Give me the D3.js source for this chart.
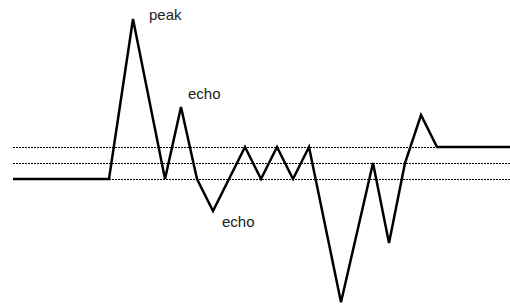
<!DOCTYPE html>
<html>
<head>
<meta charset="utf-8">
<script src="https://cdn.jsdelivr.net/npm/d3@7"></script>
<style>
  html, body { margin: 0; padding: 0; background: #fff; }
  svg { display: block; }
</style>
</head>
<body>
<svg id="chart" width="510" height="304"></svg>
<script>
// signal samples (time, amplitude)
let sampleTimes = [0.5, 6.5, 8, 10, 11, 12, 13, 15, 16, 17, 18, 19, 21, 23, 24, 25, 26, 27, 31.6];
let sampleValues = [0, 0, 10, 0, 4.5, 0, -2, 2, 0, 2, 0, 2, -7.7, 1, -4, 1, 4, 2, 2];

// dashed reference levels
let levels = [0, 1, 2];

// labels and which sample they point at
let labelTexts = ["peak", "echo", "echo"];
let labelSamples = [2, 4, 6];

let svg = d3.select("#chart");

let xScale = d3.scaleLinear()
    .domain([0, 31.5])
    .range([5, 509]);

let yScale = d3.scaleLinear()
    .domain([-8, 11])
    .range([307, 3]);

// Draw reference lines.
svg.selectAll(".level")
    .data(levels)
    .enter()
    .append("line")
    .attr("class", "level")
    .attr("x1", xScale(sampleTimes[0]))
    .attr("x2", xScale(sampleTimes[sampleTimes.length - 1]))
    .attr("y1", d => yScale(d) + 0.5)
    .attr("y2", d => yScale(d) + 0.5)
    .attr("stroke", "#000")
    .attr("stroke-width", 1)
    .style("stroke-dasharray", "2,1");

// Draw signal.
let points = sampleTimes.map((t, i) => [xScale(t), yScale(sampleValues[i])]);
let lineGen = d3.line();
svg.append("path")
    .attr("d", lineGen(points))
    .attr("fill", "none")
    .attr("stroke", "#000")
    .attr("stroke-width", 2.5)
    .style("stroke-linejoin", "miter");

// Draw labels next to their samples.
let offsets = [[16, 1], [7, -8], [9, 16]];
labelTexts.forEach((text, i) => {
    let p = points[labelSamples[i]];
    svg.append("text")
        .attr("x", p[0] + offsets[i][0])
        .attr("y", p[1] + offsets[i][1])
        .attr("font-family", "Liberation Sans, Arial, sans-serif")
        .attr("font-size", 15)
        .attr("fill", "#222")
        .text(text);
});
</script>
</body>
</html>
